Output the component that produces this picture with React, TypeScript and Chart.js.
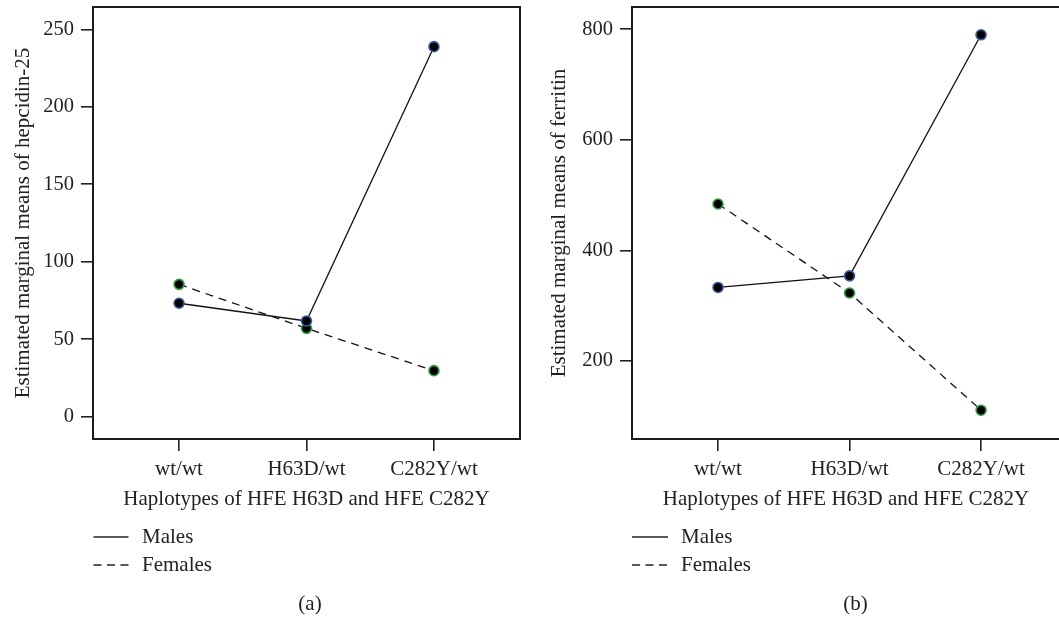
import React, { useEffect, useRef } from "react";
import { Chart, registerables } from "chart.js";

Chart.register(...registerables);

// ---- data ----
const categories = ["wt/wt", "H63D/wt", "C282Y/wt"];
const seriesNames = ["Males", "Females"];
const hepcidinMales = [73.2, 61.8, 238.8];
const hepcidinFemales = [85.4, 57.0, 29.7];
const ferritinMales = [333, 354, 790];
const ferritinFemales = [484, 323, 111];
const hepcidinTicks = [0, 50, 100, 150, 200, 250];
const ferritinTicks = [200, 400, 600, 800];
const xTitle = "Haplotypes of HFE H63D and HFE C282Y";
const hepcidinTitle = "Estimated marginal means of hepcidin-25";
const ferritinTitle = "Estimated marginal means of ferritin";
const captions = ["(a)", "(b)"];

const FONT_FAMILY = "'Liberation Serif', 'Times New Roman', serif";
const TEXT = "#222";
const MALE_RING = "#3a5aa8";
const FEMALE_RING = "#2f9f3f";

type PanelCfg = {
  canvasW: number;
  boxLeft: number;
  boxRight: number;
  yTitle: string;
  yTitlePad: number;
  males: number[];
  females: number[];
  yTicks: number[];
  yMin: number;
  yMax: number;
  xMin: number;
  xMax: number;
  caption: string;
  captionX: number;
  legendX1: number;
  legendX2: number;
  legendTextX: number;
};

const BOX_TOP = 7;
const BOX_BOTTOM = 439;
const X_AXIS_H = 73;
const H = 618;

function makeChart(canvas: HTMLCanvasElement, p: PanelCfg) {
  const font = { family: FONT_FAMILY, size: 21 };
  const yFont = { family: FONT_FAMILY, size: 20.5 };
  const pts = (vals: number[]) => categories.map((_, i) => ({ x: i, y: vals[i] }));

  const decor = {
    id: "decor" + p.caption,
    afterDraw(chart: any) {
      const ctx = chart.ctx as CanvasRenderingContext2D;
      const a = chart.chartArea;
      ctx.save();
      ctx.strokeStyle = "#1c1c1c";
      ctx.lineWidth = 2;
      ctx.setLineDash([]);
      ctx.strokeRect(a.left, a.top, a.right - a.left, a.bottom - a.top);

      // legend
      ctx.lineWidth = 1.4;
      ctx.strokeStyle = TEXT;
      ctx.fillStyle = TEXT;
      ctx.font = `21px ${FONT_FAMILY}`;
      ctx.textBaseline = "middle";
      ctx.textAlign = "left";
      const rows = [537, 565];
      seriesNames.forEach((name, i) => {
        ctx.beginPath();
        ctx.setLineDash(i === 0 ? [] : [8, 5.5]);
        ctx.moveTo(p.legendX1, rows[i]);
        ctx.lineTo(p.legendX2, rows[i]);
        ctx.stroke();
        ctx.fillText(name, p.legendTextX, rows[i]);
      });
      ctx.setLineDash([]);
      ctx.textAlign = "center";
      ctx.fillText(p.caption, p.captionX, 604);
      ctx.restore();
    },
  };

  const gridCfg = {
    display: true,
    drawOnChartArea: false,
    drawTicks: true,
    tickLength: 12,
    tickColor: "#222",
    tickWidth: 1.6,
    lineWidth: 1.6,
    color: "#222",
  };

  return new Chart(canvas, {
    type: "line",
    data: {
      datasets: [
        {
          label: seriesNames[0],
          data: pts(p.males),
          borderColor: "#111",
          borderWidth: 1.3,
          pointRadius: 5,
          pointBackgroundColor: "#000",
          pointBorderColor: MALE_RING,
          pointBorderWidth: 1.6,
          tension: 0,
        },
        {
          label: seriesNames[1],
          data: pts(p.females),
          borderColor: "#111",
          borderWidth: 1.3,
          borderDash: [8, 6],
          pointRadius: 5,
          pointBackgroundColor: "#000",
          pointBorderColor: FEMALE_RING,
          pointBorderWidth: 1.6,
          tension: 0,
        },
      ],
    },
    options: {
      responsive: false,
      maintainAspectRatio: false,
      animation: false,
      devicePixelRatio: 1,
      layout: {
        padding: {
          left: 0,
          top: BOX_TOP,
          right: p.canvasW - p.boxRight,
          bottom: H - BOX_BOTTOM - X_AXIS_H,
        },
      },
      plugins: {
        legend: { display: false },
        tooltip: { enabled: false },
        title: { display: false },
      },
      scales: {
        x: {
          type: "linear",
          position: "bottom",
          min: p.xMin,
          max: p.xMax,
          afterBuildTicks: (s: any) => {
            s.ticks = categories.map((_, i) => ({ value: i }));
          },
          afterFit: (s: any) => {
            s.height = X_AXIS_H;
            s.paddingLeft = 0;
            s.paddingRight = 0;
          },
          ticks: {
            autoSkip: false,
            maxRotation: 0,
            minRotation: 0,
            padding: 5.5,
            color: TEXT,
            font,
            callback: (v: any) => categories[Math.round(Number(v))] ?? "",
          },
          grid: gridCfg,
          border: { display: false },
          title: {
            display: true,
            text: xTitle,
            color: TEXT,
            font,
            padding: { top: 0, bottom: 0 },
          },
        },
        y: {
          type: "linear",
          position: "left",
          min: p.yMin,
          max: p.yMax,
          afterBuildTicks: (s: any) => {
            s.ticks = p.yTicks.map((v) => ({ value: v }));
          },
          afterFit: (s: any) => {
            s.width = p.boxLeft;
            s.paddingTop = 0;
            s.paddingBottom = 0;
          },
          ticks: {
            autoSkip: false,
            padding: 7,
            color: TEXT,
            font: yFont,
          },
          grid: gridCfg,
          border: { display: false },
          title: {
            display: true,
            text: p.yTitle,
            color: TEXT,
            font,
            padding: { top: p.yTitlePad, bottom: 0 },
          },
        },
      },
    },
    plugins: [decor],
  } as any);
}

const panelA: PanelCfg = {
  canvasW: 530,
  boxLeft: 93,
  boxRight: 520,
  yTitle: hepcidinTitle,
  yTitlePad: 10.4,
  males: hepcidinMales,
  females: hepcidinFemales,
  yTicks: hepcidinTicks,
  yMin: -14.4,
  yMax: 264.4,
  xMin: -0.675,
  xMax: 2.675,
  caption: captions[0],
  captionX: 310,
  legendX1: 93.5,
  legendX2: 128.5,
  legendTextX: 142,
};

const panelB: PanelCfg = {
  canvasW: 542,
  boxLeft: 102,
  boxRight: 530,
  yTitle: ferritinTitle,
  yTitlePad: 16.4,
  males: ferritinMales,
  females: ferritinFemales,
  yTicks: ferritinTicks,
  yMin: 58.9,
  yMax: 840.3,
  xMin: -0.654,
  xMax: 2.6,
  caption: captions[1],
  captionX: 325.5,
  legendX1: 102,
  legendX2: 138,
  legendTextX: 151,
};

export default function App() {
  const refA = useRef<HTMLCanvasElement | null>(null);
  const refB = useRef<HTMLCanvasElement | null>(null);

  useEffect(() => {
    const charts: Chart[] = [];
    if (refA.current) charts.push(makeChart(refA.current, panelA));
    if (refB.current) charts.push(makeChart(refB.current, panelB));
    return () => charts.forEach((c) => c.destroy());
  }, []);

  return (
    <div
      style={{
        position: "absolute",
        left: 0,
        top: 0,
        width: 1059,
        height: 618,
        overflow: "hidden",
        background: "#fff",
      }}
    >
      <canvas
        ref={refA}
        width={panelA.canvasW}
        height={H}
        style={{ position: "absolute", left: 0, top: 0 }}
      />
      <canvas
        ref={refB}
        width={panelB.canvasW}
        height={H}
        style={{ position: "absolute", left: 530, top: 0 }}
      />
    </div>
  );
}
